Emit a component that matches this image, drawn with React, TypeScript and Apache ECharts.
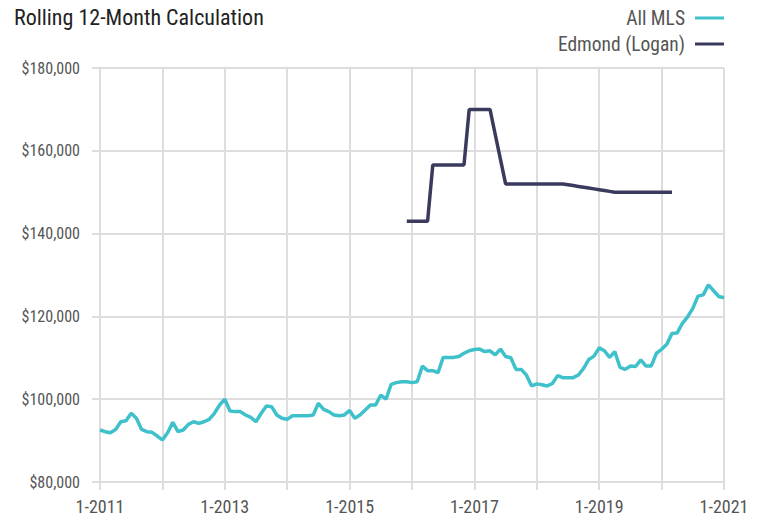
import React, { useEffect, useRef } from "react";
import * as echarts from "echarts";

const months: string[] = [];
for (let y = 2011; y <= 2021; y++) {
  for (let m = 1; m <= 12; m++) {
    if (y === 2021 && m > 1) break;
    months.push(`${m}-${y}`);
  }
}

const allMls = [
  92560, 92150, 91900, 92700, 94560, 94800, 96600, 95400, 92700, 92150, 92000, 91100,
  90150, 91900, 94400, 92150, 92560, 93930, 94560, 94170, 94560, 95140, 96600, 98600,
  100000, 97150, 97000, 97000, 96180, 95600, 94560, 96600, 98360, 98200, 96180, 95400,
  95140, 96000, 96000, 96000, 96000, 96200, 99000, 97560, 97000, 96200, 96000, 96200,
  97300, 95400, 96200, 97400, 98600, 98600, 101000, 100000, 103600, 104000, 104200, 104200,
  104000, 104200, 108000, 106900, 106900, 106400, 110100, 110100, 110100, 110300, 111100, 111700,
  112000, 112100, 111500, 111700, 110700, 112100, 110300, 110000, 107200, 107200, 105850, 103200,
  103700, 103500, 103200, 103800, 105700, 105200, 105200, 105200, 105850, 107450, 109600, 110400,
  112400, 111700, 110100, 111500, 107700, 107200, 108000, 107900, 109500, 108000, 108000, 111100,
  112050, 113300, 115900, 116000, 118300, 119900, 121950, 124900, 125200, 127600, 126200, 124800,
  124500,
];

// Edmond (Logan): Dec 2015 (index 59) through Mar 2020 (index 110)
const edmondStart = 59;
const edmondValues = [
  143000, 143000, 143000, 143000, 143000,
  156600, 156600, 156600, 156600, 156600, 156600, 156600,
  170000, 170000, 170000, 170000, 170000,
  164000, 158000, 152000,
  152000, 152000, 152000, 152000, 152000, 152000, 152000, 152000, 152000, 152000, 152000,
  151800, 151600, 151400, 151200, 151000, 150800, 150600, 150400, 150200, 150000,
  150000, 150000, 150000, 150000, 150000, 150000, 150000, 150000, 150000, 150000, 150000,
];

const yTicks = { min: 80000, max: 180000, interval: 20000 };

const fontFamily = "'Roboto Condensed', Roboto, 'Liberation Sans', Arial, sans-serif";

export default function App() {
  const ref = useRef<HTMLDivElement>(null);
  useEffect(() => {
    if (!ref.current) return;
    const chart = echarts.init(ref.current, undefined, { renderer: "svg" });
    const edmondData: (number | null)[] = months.map((_, i) => {
      const k = i - edmondStart;
      return k >= 0 && k < edmondValues.length ? edmondValues[k] : null;
    });
    chart.setOption({
      animation: false,
      backgroundColor: "#ffffff",
      textStyle: { fontFamily },
      title: {
        text: "Rolling 12-Month Calculation",
        left: 9,
        top: 1,
        padding: [5, 5, 5, 5],
        textStyle: { fontSize: 22, fontWeight: "normal", color: "#222222", fontFamily },
      },
      legend: {
        orient: "vertical",
        right: 35,
        top: 8,
        padding: 0,
        align: "right",
        itemWidth: 29,
        itemHeight: 3,
        itemGap: 6,
        icon: "rect",
        textStyle: { fontSize: 19.5, color: "#555555", fontFamily, padding: [0, 5, 0, 0] },
        data: ["All MLS", "Edmond (Logan)"],
      },
      grid: { left: 100, right: 35, top: 68, bottom: 35, containLabel: false },
      xAxis: {
        type: "category",
        data: months,
        boundaryGap: false,
        axisLine: { show: true, lineStyle: { color: "#dddddd", width: 2 } },
        axisTick: {
          show: true,
          length: 8,
          interval: (i: number) => i % 12 === 0,
          lineStyle: { color: "#dddddd", width: 2 },
        },
        splitLine: {
          show: true,
          interval: (i: number) => i % 12 === 0,
          lineStyle: { color: "#dddddd", width: 2 },
        },
        axisLabel: {
          interval: (i: number) => i % 24 === 0,
          color: "#555555",
          fontSize: 18,
          margin: 15,
          fontFamily,
        },
      },
      yAxis: {
        type: "value",
        min: yTicks.min,
        max: yTicks.max,
        interval: yTicks.interval,
        axisLine: { show: false },
        axisTick: { show: true, length: 8, lineStyle: { color: "#dddddd", width: 2 } },
        splitLine: { show: true, lineStyle: { color: "#dddddd", width: 2 } },
        axisLabel: {
          color: "#555555",
          fontSize: 16,
          margin: 20,
          fontFamily,
          formatter: (v: number) => "$" + v.toLocaleString("en-US"),
        },
      },
      series: [
        {
          name: "All MLS",
          type: "line",
          data: allMls,
          showSymbol: false,
          symbol: "none",
          color: "#3ec1ca",
          lineStyle: { width: 3.5, color: "#3ec1ca" },
          z: 3,
        },
        {
          name: "Edmond (Logan)",
          type: "line",
          data: edmondData,
          showSymbol: false,
          symbol: "none",
          color: "#3a3b5c",
          lineStyle: { width: 3.5, color: "#3a3b5c" },
          z: 4,
        },
      ],
    });
    return () => chart.dispose();
  }, []);
  return <div ref={ref} style={{ width: 759, height: 517, position: "absolute", left: 0, top: 0 }} />;
}
